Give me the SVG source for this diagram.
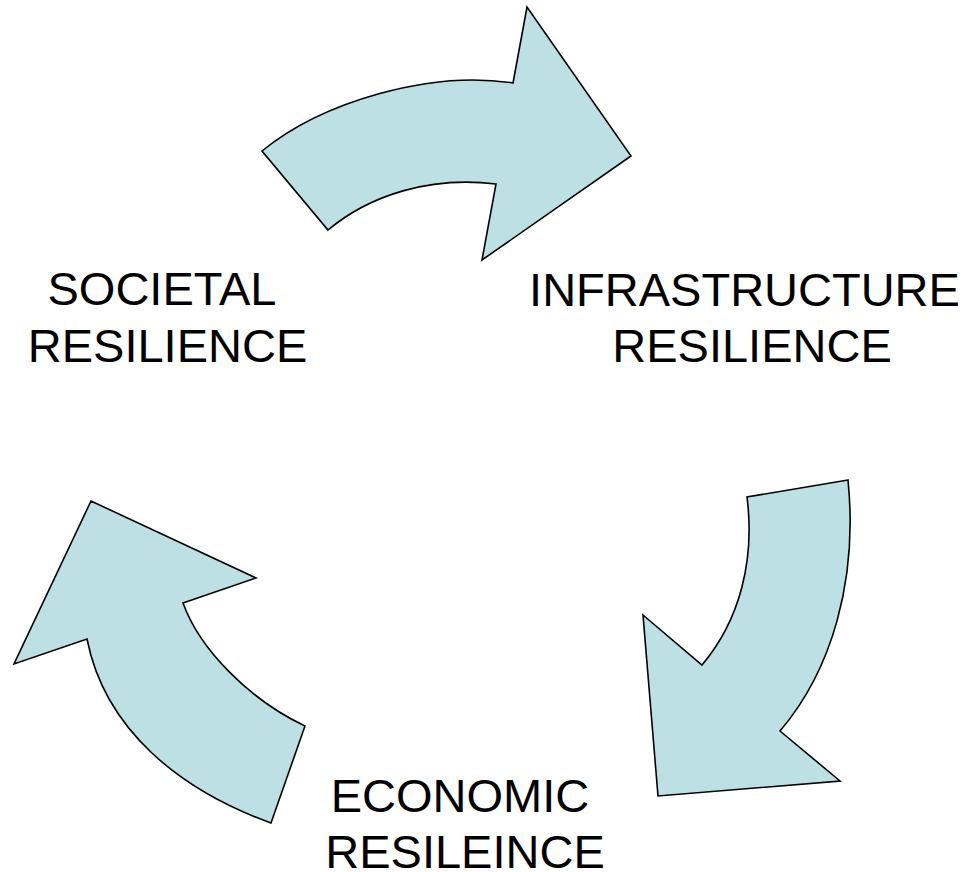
<svg xmlns="http://www.w3.org/2000/svg" width="970" height="872" viewBox="0 0 970 872">
<style>
.arrow{fill:#BCE0E3;stroke:#000;stroke-width:1.6;stroke-linejoin:miter}
.lbl{font-family:"Liberation Sans",Arial,sans-serif;font-size:47px;fill:#000;text-anchor:middle}
</style>
<rect width="970" height="872" fill="#fff"/>
<g id="connectors">
<path id="arrow-top" class="arrow" d="M262,151 C322,102 430,70 513,83 L527,7 L631,156 L482,260 L496,184 C430,176 370,195 328,230 Z"/>
<path id="arrow-right" class="arrow" d="M848,480 L747,497 C755,560 740,620 702,665 L643,615 L658,796 L840,781 L780,731 C832,670 858,580 848,480 Z"/>
<path id="arrow-left" class="arrow" d="M91,501 L256,578 L183,603 C200,650 250,700 305,726 L271,823 C180,790 105,730 87,639 L14,664 Z"/>
</g>
<g id="societal">
<text class="lbl" x="162" y="305">SOCIETAL</text>
<text class="lbl" x="167.5" y="362">RESILIENCE</text>
</g>
<g id="infrastructure">
<text class="lbl" x="744.5" y="306">INFRASTRUCTURE</text>
<text class="lbl" x="752" y="362">RESILIENCE</text>
</g>
<g id="economic">
<text class="lbl" x="460" y="812">ECONOMIC</text>
<text class="lbl" x="465" y="868">RESILEINCE</text>
</g>
</svg>
